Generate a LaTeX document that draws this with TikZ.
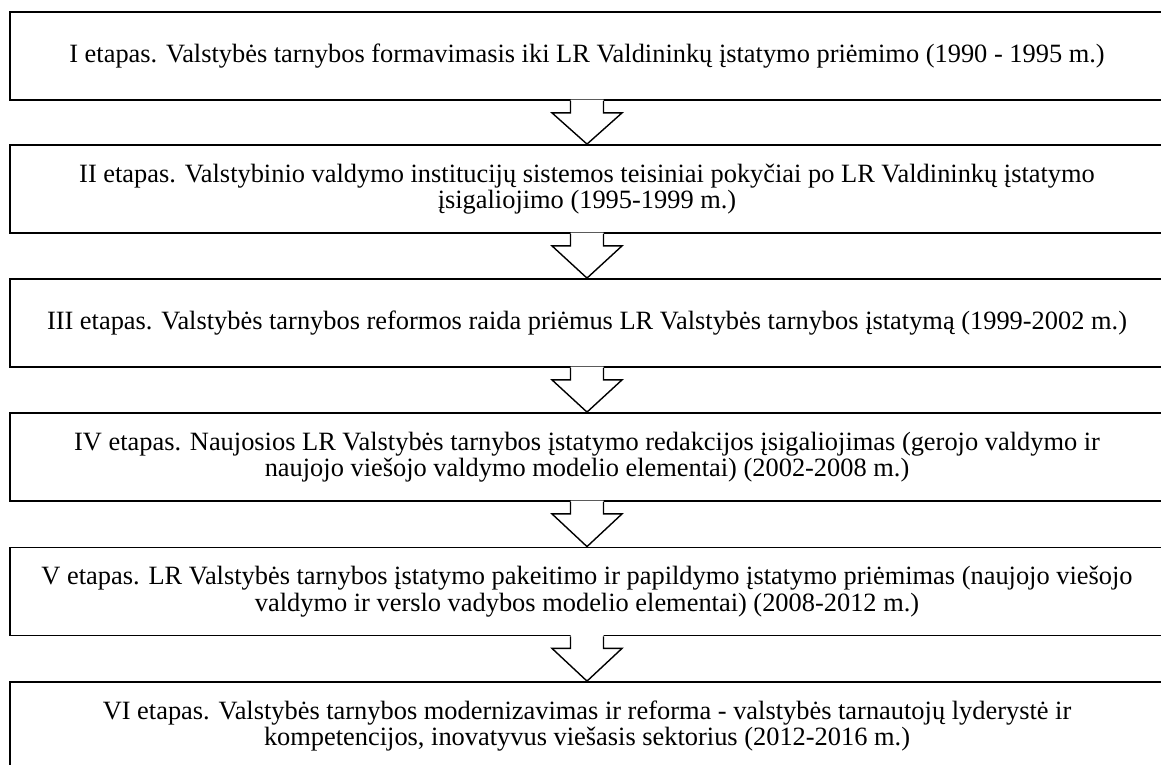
\documentclass[tikz,border=0pt]{standalone}
\usepackage{fontspec}
\setmainfont{Liberation Serif}
\usetikzlibrary{calc}
\tikzset{
  stage/.style={draw, line width=1.8pt, minimum width=1154pt, minimum height=88pt,
    inner sep=0pt, align=center, font=\fontsize{26.4}{26.5}\selectfont},
  arrline/.style={line width=1.4pt, line join=miter},
}
\newcommand{\blockarrow}[2]{%
  \fill[white] ([xshift=-16.5pt,yshift=1.2pt]#1.south) -- ([xshift=-16.5pt,yshift=-12pt]#1.south)
    -- ([xshift=-35pt,yshift=-12pt]#1.south) -- (#2.north)
    -- ([xshift=35pt,yshift=-12pt]#1.south) -- ([xshift=16.5pt,yshift=-12pt]#1.south)
    -- ([xshift=16.5pt,yshift=1.2pt]#1.south) -- cycle;
  \draw[arrline] ([xshift=-16.5pt]#1.south) -- ([xshift=-16.5pt,yshift=-12pt]#1.south)
    -- ([xshift=-35pt,yshift=-12pt]#1.south) -- (#2.north)
    -- ([xshift=35pt,yshift=-12pt]#1.south) -- ([xshift=16.5pt,yshift=-12pt]#1.south)
    -- ([xshift=16.5pt]#1.south);
}
\begin{document}
\begin{tikzpicture}[x=1pt,y=-1pt]
\useasboundingbox (0,0) rectangle (1161,765);
\clip (0,0) rectangle (1161,765);
\fill[white] (0,0) rectangle (1161,765);
\node[stage] (s1) at (587,56) {I etapas. Valstybės tarnybos formavimasis iki LR Valdininkų įstatymo priėmimo (1990 - 1995 m.)};
\node[stage] (s2) at (587,189) {II etapas. Valstybinio valdymo institucijų sistemos teisiniai pokyčiai po LR Valdininkų įstatymo\\ įsigaliojimo (1995-1999 m.)};
\node[stage] (s3) at (587,323) {III etapas. Valstybės tarnybos reformos raida priėmus LR Valstybės tarnybos įstatymą (1999-2002 m.)};
\node[stage] (s4) at (587,457) {IV etapas. Naujosios LR Valstybės tarnybos įstatymo redakcijos įsigaliojimas (gerojo valdymo ir\\ naujojo viešojo valdymo modelio elementai) (2002-2008 m.)};
\node[stage] (s5) at (587,591.5) {V etapas. LR Valstybės tarnybos įstatymo pakeitimo ir papildymo įstatymo priėmimas (naujojo viešojo\\ valdymo ir verslo vadybos modelio elementai) (2008-2012 m.)};
\node[stage] (s6) at (587,726) {VI etapas. Valstybės tarnybos modernizavimas ir reforma - valstybės tarnautojų lyderystė ir\\ kompetencijos, inovatyvus viešasis sektorius (2012-2016 m.)};
\blockarrow{s1}{s2}
\blockarrow{s2}{s3}
\blockarrow{s3}{s4}
\blockarrow{s4}{s5}
\blockarrow{s5}{s6}
\end{tikzpicture}
\end{document}
